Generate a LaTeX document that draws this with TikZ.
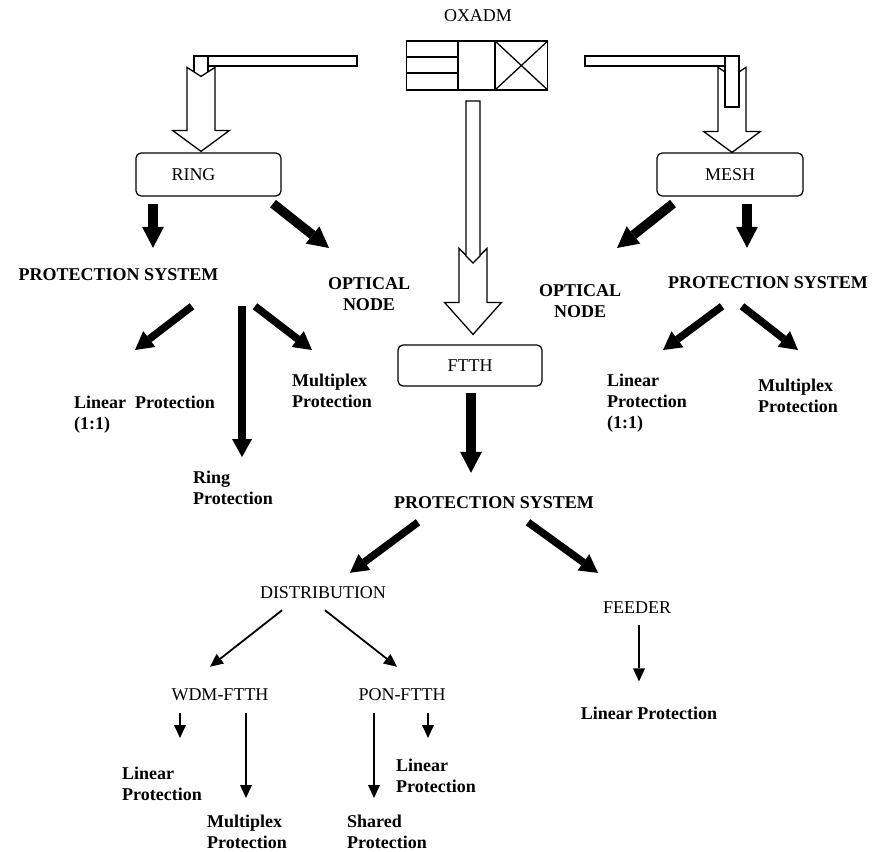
\documentclass[tikz,border=0pt]{standalone}
\usepackage{fontspec}
\setmainfont{Liberation Serif}
\usetikzlibrary{arrows.meta}

\begin{document}
\begin{tikzpicture}[x=1pt,y=-1pt,
  every node/.style={inner sep=0pt,font=\fontsize{18}{21}\selectfont},
  lbl/.style={font=\fontsize{18}{21}\selectfont\bfseries},
  lbllist/.style={lbl,align=left,anchor=north west},
  outline/.style={draw=linecolor,fill=fillcolor,line width=1.3pt},
  block/.style={draw=linecolor,line width=1.2pt,rounded corners=5pt,minimum height=43pt},
  bigarrow/.style={linecolor,line width=9.5pt,-{Triangle[width=22pt,length=21pt,line width=0pt]}},
  midarrow/.style={linecolor,line width=7.5pt,-{Triangle[width=20pt,length=18pt,line width=0pt]}},
  thinarrow/.style={linecolor,line width=1.8pt,-{Triangle[width=12pt,length=13pt,line width=0pt]}},
  pics/hollow/.style n args={3}{code={
    \draw[outline] (-14,-#1) -- (0,-#1+#3) -- (14,-#1) -- (14,-#2) -- (28.5,-#2)
      -- (0,0) -- (-28.5,-#2) -- (-14,-#2) -- cycle;}}]
\definecolor{linecolor}{RGB}{0,0,0}
\definecolor{fillcolor}{RGB}{255,255,255}
\useasboundingbox (0,0) rectangle (874,851);

\node (oxadmlabel) at (478,16) {OXADM};
\node [draw=linecolor,line width=1.3pt,minimum width=141pt,minimum height=49pt] (oxadm) at (477.2,65.5) {};
\draw [linecolor,line width=1.3pt] (458,41) -- (458,90);
\draw [linecolor,line width=1.3pt] (495,41) -- (495,90);
\draw [linecolor,line width=1.3pt] (406.7,57) -- (458,57);
\draw [linecolor,line width=1.3pt] (406.7,73) -- (458,73);
\draw [linecolor,line width=1.3pt] (495,41) -- (547.7,90);
\draw [linecolor,line width=1.3pt] (495,90) -- (547.7,41);

\node [block,minimum width=145pt] (ring) at (208.5,174.5) {RING\hspace*{30pt}};
\node [block,minimum width=146pt] (mesh) at (730,174.5) {MESH};
\node [block,minimum width=144pt,minimum height=41pt] (ftth) at (470,365.5) {FTTH};

\draw [outline] (194,56) rectangle (208,80);
\draw [outline] (208,56) rectangle (357,66);
\pic at ([shift={(-7.5,-1)}]ring.north) {hollow={84}{21}{9}};
\pic at ([shift={(2,0)}]mesh.north) {hollow={85}{21}{9}};
\draw [outline] (725,56) rectangle (739,107);
\draw [outline] (585,56) rectangle (725,66);
\pic at ([shift={(3,-10)}]ftth.north) {hollow={86}{32}{14}};
\draw [outline] (466,101) -- (480,101) -- (480,256) -- (473,263) -- (466,256) -- cycle;

\node [lbl] (lps) at (118.5,275) {PROTECTION SYSTEM};
\node [lbl,align=center,anchor=north] (lopt) at (369,277) {OPTICAL\\NODE};
\node [lbl] (rps) at (768,283) {PROTECTION SYSTEM};
\node [lbl,align=center,anchor=north] (ropt) at (580,284) {OPTICAL\\NODE};
\node [lbllist] (llin) at (74,395.7) {Linear\ \ Protection\\(1:1)};
\node [lbllist] (lring) at (193,470.7) {Ring\\Protection};
\node [lbllist] (lmux) at (292,373.7) {Multiplex\\Protection};
\node [lbllist] (rlin) at (607,373.7) {Linear\\Protection\\(1:1)};
\node [lbllist] (rmux) at (758,378.7) {Multiplex\\Protection};
\node [lbl] (bps) at (494,503) {PROTECTION SYSTEM};
\node (dist) at (323,593) {DISTRIBUTION};
\node (feeder) at (637,608) {FEEDER};
\node (wdm) at (220,695) {WDM-FTTH};
\node (pon) at (402,695) {PON-FTTH};
\node [lbllist] (wlin) at (122,766.7) {Linear\\Protection};
\node [lbllist] (wmux) at (207,814.5) {Multiplex\\Protection};
\node [lbllist] (pshr) at (347,814.5) {Shared\\Protection};
\node [lbllist] (plin) at (396,758.7) {Linear\\Protection};
\node [lbl] (flin) at (649,713) {Linear Protection};

\draw [bigarrow] ([shift={(-55.5,7)}]ring.south) -- ([shift={(34.5,-21)}]lps.north);
\draw [bigarrow] ([shift={(64.5,7)}]ring.south) -- ([shift={(-40,-29)}]lopt.north);
\draw [bigarrow] ([shift={(-57,7)}]mesh.south) -- ([shift={(37,-36)}]ropt.north);
\draw [bigarrow] ([shift={(17,7)}]mesh.south) -- ([shift={(-21,-29)}]rps.north);
\draw [bigarrow] ([shift={(1,6)}]ftth.south) -- ([shift={(-23,-24)}]bps.north);
\draw [midarrow] ([shift={(73.5,25)}]lps.south) -- ([shift={(61,-45.7)}]llin.north west);
\draw [midarrow] ([shift={(123.5,25)}]lps.south) -- ([shift={(49,-13.7)}]lring.north west);
\draw [midarrow] ([shift={(136.5,25)}]lps.south) -- ([shift={(20,-23.7)}]lmux.north west);
\draw [midarrow] ([shift={(-46,17)}]rps.south) -- ([shift={(56,-23.7)}]rlin.north west);
\draw [midarrow] ([shift={(-26,17)}]rps.south) -- ([shift={(40,-28.7)}]rmux.north west);
\draw [midarrow] ([shift={(-76,13)}]bps.south) -- ([shift={(27,-14)}]dist.north);
\draw [midarrow] ([shift={(34,13)}]bps.south) -- ([shift={(-39,-29)}]feeder.north);
\draw [thinarrow] ([shift={(-41,11)}]dist.south) -- ([shift={(-10,-22)}]wdm.north);
\draw [thinarrow] ([shift={(2,11)}]dist.south) -- ([shift={(-5,-22)}]pon.north);
\draw [thinarrow] ([shift={(-40,12)}]wdm.south) -- ([shift={(58,-28.7)}]wlin.north west);
\draw [thinarrow] ([shift={(26,12)}]wdm.south) -- ([shift={(39,-16.5)}]wmux.north west);
\draw [thinarrow] ([shift={(-28,12)}]pon.south) -- ([shift={(27,-16.5)}]pshr.north west);
\draw [thinarrow] ([shift={(26,12)}]pon.south) -- ([shift={(32,-20.7)}]plin.north west);
\draw [thinarrow] ([shift={(2,11)}]feeder.south) -- ([shift={(-10,-25)}]flin.north);
\end{tikzpicture}
\end{document}
